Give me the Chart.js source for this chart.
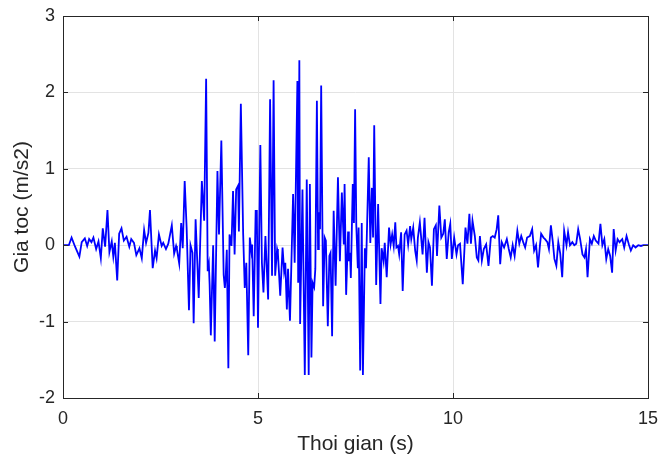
<!DOCTYPE html>
<html>
<head>
<meta charset="utf-8">
<script src="https://cdn.jsdelivr.net/npm/chart.js@4"></script>
<style>
  body { margin: 0; background: #fff; }
</style>
</head>
<body>
<canvas id="accChart" width="658" height="457"></canvas>
<script>
// time (s) and ground acceleration (m/s2)
const times = [
  0, 0.15, 0.22, 0.31, 0.42, 0.48, 0.56, 0.62, 0.67, 0.73, 0.78, 0.85, 0.91, 0.97, 1.02, 1.08, 1.14, 1.19, 1.25, 1.29,
  1.33, 1.39, 1.44, 1.50, 1.56, 1.63, 1.70, 1.75, 1.82, 1.88, 1.96, 2.02, 2.08, 2.13, 2.19, 2.23, 2.30, 2.36, 2.40, 2.46,
  2.53, 2.57, 2.64, 2.70, 2.79, 2.85, 2.90, 2.92, 2.98, 3.03, 3.07, 3.12, 3.17, 3.23, 3.27, 3.32, 3.35, 3.40, 3.48, 3.56,
  3.62, 3.67, 3.71, 3.74, 3.76, 3.79, 3.85, 3.89, 3.96, 4.00, 4.06, 4.12, 4.15, 4.17, 4.20, 4.24, 4.27, 4.32, 4.36, 4.40,
  4.44, 4.49, 4.51, 4.56, 4.62, 4.66, 4.70, 4.75, 4.79, 4.83, 4.85, 4.89, 4.94, 4.97, 5.00, 5.06, 5.10, 5.14, 5.19, 5.26,
  5.31, 5.36, 5.40, 5.44, 5.49, 5.51, 5.57, 5.63, 5.67, 5.70, 5.74, 5.77, 5.82, 5.90, 5.94, 6.01, 6.03, 6.06, 6.08, 6.14,
  6.20, 6.25, 6.30, 6.33, 6.37, 6.40, 6.44, 6.47, 6.51, 6.54, 6.56, 6.59, 6.62, 6.67, 6.71, 6.74, 6.79, 6.83, 6.86, 6.90,
  6.94, 6.99, 7.05, 7.10, 7.15, 7.20, 7.22, 7.26, 7.31, 7.33, 7.36, 7.38, 7.43, 7.46, 7.49, 7.52, 7.56, 7.58, 7.62, 7.66,
  7.69, 7.74, 7.77, 7.84, 7.88, 7.92, 7.95, 7.98, 8.03, 8.08, 8.14, 8.17, 8.22, 8.25, 8.30, 8.36, 8.40, 8.44, 8.48, 8.52,
  8.55, 8.59, 8.62, 8.67, 8.71, 8.76, 8.81, 8.85, 8.90, 8.93, 8.98, 9.03, 9.07, 9.10, 9.15, 9.22, 9.27, 9.33, 9.37, 9.41,
  9.46, 9.51, 9.56, 9.59, 9.65, 9.70, 9.75, 9.79, 9.84, 9.89, 9.93, 9.97, 10.03, 10.09, 10.13, 10.18, 10.25, 10.32, 10.37, 10.42,
  10.46, 10.50, 10.56, 10.61, 10.65, 10.69, 10.74, 10.79, 10.85, 10.91, 10.97, 11.02, 11.07, 11.12, 11.16, 11.21, 11.25, 11.31, 11.38, 11.43,
  11.48, 11.53, 11.58, 11.65, 11.70, 11.75, 11.80, 11.85, 11.90, 11.97, 12.03, 12.08, 12.13, 12.18, 12.23, 12.26, 12.32, 12.36, 12.42, 12.46,
  12.51, 12.56, 12.60, 12.65, 12.70, 12.75, 12.80, 12.85, 12.91, 12.95, 13.00, 13.06, 13.11, 13.16, 13.21, 13.26, 13.32, 13.37, 13.41, 13.45,
  13.51, 13.56, 13.61, 13.66, 13.73, 13.78, 13.83, 13.88, 13.93, 13.98, 14.03, 14.08, 14.12, 14.17, 14.22, 14.27, 14.34, 14.39, 14.45, 14.51,
  14.56, 14.62, 14.68, 14.75, 14.82, 14.88, 15.00
];
const accel = [
  0, 0, 0.10, -0.02, -0.15, 0.04, 0.09, -0.01, 0.08, 0.04, 0.10, -0.05, 0.05, -0.17, 0.22, -0.02, 0.46, -0.09, 0.05, -0.15,
  0.03, -0.46, 0.15, 0.22, 0.06, 0.11, -0.02, 0.08, 0.03, -0.13, -0.04, -0.17, 0.20, 0.03, 0.16, 0.46, -0.30, -0.07, -0.17, 0.14,
  -0.01, 0.03, -0.05, 0.02, 0.26, -0.11, -0.01, -0.05, -0.24, 0.29, -0.04, 0.84, 0.23, -0.85, 0.00, -0.10, -1.02, 0.34, -0.69, 0.84,
  0.32, 2.18, -0.34, -0.25, -0.52, -1.18, 0.00, -1.26, 0.97, 0.14, 1.37, -0.39, -0.56, -0.43, -0.06, -1.61, 0.14, -0.01, 0.71, -0.12,
  0.73, 0.78, 0.18, 1.85, 0.14, -0.56, -0.23, -1.44, 0.10, -0.08, 0.01, -0.93, 0.45, 0.45, -1.08, 1.31, -0.23, -0.62, 0.12, -0.71,
  1.91, -0.40, 2.16, -0.40, -0.05, -0.10, -0.66, -0.03, -0.34, -0.23, -0.84, -0.31, -0.99, 0.67, -0.23, 2.15, -0.49, 2.42, -1.03, 0.73,
  -1.70, 0.86, -1.70, 0.80, -1.47, -0.49, -0.55, -0.31, 1.89, -0.05, 0.43, 0.21, 2.09, -0.80, 0.10, 0.06, -1.06, -0.14, -0.10, -1.19,
  0.45, -0.53, 0.89, -0.21, 0.69, 0.01, 0.80, -0.65, 0.18, -0.21, -0.10, -0.43, 0.80, 0.29, 1.78, 0.27, -0.30, 0.23, -1.64, 0.29,
  -1.70, -0.04, -0.30, 1.15, 0.03, 0.75, 0.10, 1.57, -0.52, 0.54, -0.77, -0.04, -0.21, 0.03, -0.42, 0.23, 0.01, 0.14, -0.01, 0.30,
  -0.03, -0.01, -0.12, 0.17, -0.60, 0.14, 0.19, 0.01, 0.25, 0.08, 0.23, -0.07, -0.20, 0.10, 0.30, -0.12, 0.36, -0.36, 0.04, -0.03,
  -0.53, 0.21, 0.26, -0.14, 0.52, 0.10, 0.15, 0.34, -0.18, 0.17, 0.28, -0.18, 0.10, -0.12, 0.00, 0.02, -0.51, 0.23, 0.02, 0.41,
  0.02, 0.32, 0.12, -0.16, -0.20, 0.12, -0.20, -0.05, 0.01, -0.27, 0.10, 0.12, 0.10, 0.21, 0.39, -0.25, 0.04, -0.03, 0.08, -0.05,
  -0.16, 0.00, -0.14, 0.19, 0.02, 0.12, 0.04, -0.03, 0.10, 0.12, 0.21, -0.07, 0.00, -0.29, 0.00, 0.15, 0.10, 0.08, 0.04, -0.05,
  0.26, 0.04, -0.18, -0.27, 0.04, -0.11, -0.42, 0.19, 0.00, 0.17, 0.00, 0.04, 0.00, 0.02, 0.21, 0.08, -0.12, -0.16, -0.05, -0.42,
  0.08, 0.02, 0.12, 0.06, 0.02, 0.28, 0.00, 0.08, -0.18, -0.05, -0.14, -0.36, 0.21, -0.07, 0.08, 0.04, 0.08, -0.03, 0.12, 0.01,
  -0.07, 0.00, -0.03, 0.00, -0.01, 0.00, 0.00
];
const xTicks = [0, 5, 10, 15];
const yTicks = [-2, -1, 0, 1, 2, 3];

const axisColor = '#262626';
const fontFamily = '"Liberation Sans", Arial, sans-serif';

// MATLAB-like box with inward ticks on all four sides
const boxPlugin = {
  id: 'boxPlugin',
  afterDraw(chart) {
    const { ctx, chartArea: a, scales } = chart;
    ctx.save();
    ctx.strokeStyle = axisColor;
    ctx.lineWidth = 1;
    ctx.strokeRect(a.left + 0.5, a.top + 0.5, a.right - a.left, a.bottom - a.top);
    ctx.beginPath();
    xTicks.forEach(v => {
      const px = Math.round(scales.x.getPixelForValue(v)) + 0.5;
      ctx.moveTo(px, a.bottom); ctx.lineTo(px, a.bottom - 5);
      ctx.moveTo(px, a.top); ctx.lineTo(px, a.top + 5);
    });
    yTicks.forEach(v => {
      const py = Math.round(scales.y.getPixelForValue(v)) + 0.5;
      ctx.moveTo(a.left, py); ctx.lineTo(a.left + 5, py);
      ctx.moveTo(a.right, py); ctx.lineTo(a.right - 5, py);
    });
    ctx.stroke();
    ctx.restore();
  }
};

new Chart(document.getElementById('accChart'), {
  type: 'line',
  data: {
    datasets: [{
      data: times.map((t, i) => ({ x: t, y: accel[i] })),
      borderColor: '#0000ff',
      borderWidth: 1.8,
      pointRadius: 0,
      tension: 0,
      fill: false
    }]
  },
  options: {
    responsive: false,
    animation: false,
    layout: { padding: { top: 16, right: 10, left: 0, bottom: 0 } },
    plugins: { legend: { display: false }, tooltip: { enabled: false } },
    scales: {
      x: {
        type: 'linear',
        min: 0,
        max: 15,
        afterFit: s => { s.height = 59; s.paddingLeft = 0; s.paddingRight = 0; },
        afterBuildTicks: s => { s.ticks = xTicks.map(v => ({ value: v })); },
        grid: { color: '#e3e3e3', drawTicks: false },
        border: { display: false },
        ticks: { color: axisColor, padding: 10, font: { family: fontFamily, size: 18 } },
        title: {
          display: true,
          text: 'Thoi gian (s)',
          color: axisColor,
          padding: { top: 2, bottom: 0 },
          font: { family: fontFamily, size: 21 }
        }
      },
      y: {
        min: -2,
        max: 3,
        afterFit: s => { s.width = 63; s.paddingTop = 0; s.paddingBottom = 0; },
        afterBuildTicks: s => { s.ticks = yTicks.map(v => ({ value: v })); },
        grid: { color: '#e3e3e3', drawTicks: false },
        border: { display: false },
        ticks: { color: axisColor, padding: 8, font: { family: fontFamily, size: 18 } },
        title: {
          display: true,
          text: 'Gia toc (m/s2)',
          color: axisColor,
          padding: { top: 10, bottom: 0 },
          font: { family: fontFamily, size: 21 }
        }
      }
    }
  },
  plugins: [boxPlugin]
});
</script>
</body>
</html>
